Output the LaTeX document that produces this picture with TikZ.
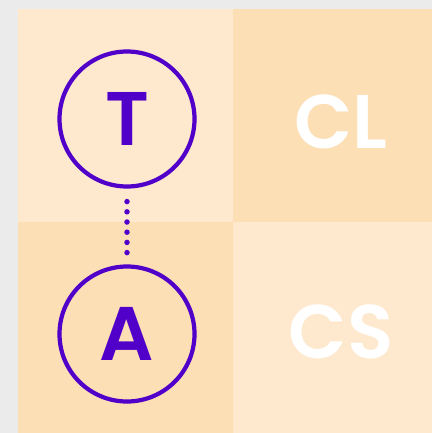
\documentclass[tikz,border=0pt]{standalone}
\usepackage{fontspec}
\setmainfont{Poppins}[BoldFont={Poppins SemiBold}]
\usetikzlibrary{positioning}
\definecolor{pagegray}{RGB}{235,235,235}
\definecolor{peachlight}{RGB}{254,233,206}
\definecolor{peachdark}{RGB}{253,223,182}
\definecolor{violet}{RGB}{80,0,200}

\begin{document}
\begin{tikzpicture}[
  x=1pt, y=-1pt,
  role/.style={circle, draw=violet, line width=4.2pt, minimum size=135pt, inner sep=0pt,
               text=violet, font=\fontsize{76}{76}\selectfont\bfseries},
  tag/.style={text=white, inner sep=0pt, font=\fontsize{76}{76}\selectfont\bfseries},
  link/.style={draw=violet, line width=5.5pt, line cap=round, dash pattern=on 0pt off 10.2pt,
               shorten <=13pt, shorten >=11pt},
]
% ---- page and the four cells ----
\fill[pagegray] (0,0) rectangle (432,433);
\fill[peachlight] (18,9) rectangle (233,222);
\fill[peachdark] (233,9) rectangle (432,222);
\fill[peachdark] (18,222) rectangle (233,433);
\fill[peachlight] (233,222) rectangle (432,433);
\useasboundingbox (0,0) rectangle (432,433);

% ---- circled roles ----
\node[role] (T) at (127,119) {T};
\node[role] (A) at (127,334) {A};

% ---- cell tags ----
\node[tag] (CL) at (341,122) {CL};
\node[tag] (CS) at (341,332) {CS};

% ---- dotted link ----
\draw[link] (T) -- (A);
\end{tikzpicture}
\end{document}
